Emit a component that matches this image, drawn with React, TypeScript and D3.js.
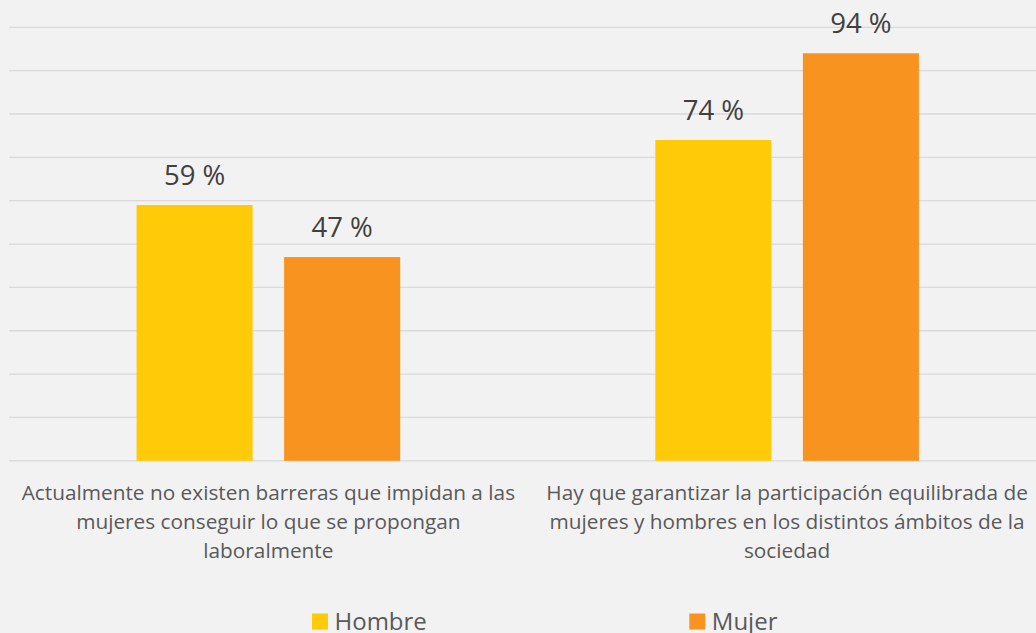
import React from "react";
import * as d3 from "d3";

const categories: string[][] = [
  ["Actualmente no existen barreras que impidan a las", "mujeres conseguir lo que se propongan", "laboralmente"],
  ["Hay que garantizar la participación equilibrada de", "mujeres y hombres en los distintos ámbitos de la", "sociedad"],
];
const seriesNames = ["Hombre", "Mujer"];
const hombre = [59, 74];
const mujer = [47, 94];
const colors = ["#FFCA08", "#F7931E"];
const yTicks = [0, 10, 20, 30, 40, 50, 60, 70, 80, 90, 100];

const W = 1036;
const H = 633;
const FONT = "'Open Sans', 'DejaVu Sans', sans-serif";

export default function App() {
  const values = [hombre, mujer];
  const x0 = d3
    .scaleBand<number>()
    .domain(categories.map((_, i) => i))
    .range([9, 1046.5])
    .paddingInner(0.4918)
    .paddingOuter(0.2459);
  const x1 = d3
    .scaleBand<number>()
    .domain(seriesNames.map((_, i) => i))
    .range([0, x0.bandwidth()])
    .paddingInner(0.2136)
    .paddingOuter(0);
  const y = d3.scaleLinear().domain([0, 100]).range([460.8, 27.3]);

  return (
    <div style={{ position: "fixed", left: 0, top: 0 }}>
      <svg width={W} height={H} style={{ display: "block" }}>
        <rect x={0} y={0} width={W} height={H} fill="#f2f2f2" />
        {yTicks.map((t) => (
          <line key={t} x1={9} x2={W} y1={y(t)} y2={y(t)} stroke="#d9d9d9" strokeWidth={1.3} />
        ))}
        {categories.map((_, ci) => (
          <g key={ci} transform={`translate(${x0(ci)},0)`}>
            {values.map((vals, si) => {
              const v = vals[ci];
              const bx = x1(si)!;
              const bw = x1.bandwidth();
              return (
                <g key={si}>
                  <rect x={bx} y={y(v)} width={bw} height={y(0) - y(v)} fill={colors[si]} />
                  <text
                    x={bx + bw / 2}
                    y={y(v) - 20}
                    textAnchor="middle"
                    fontFamily={FONT}
                    fontSize={27.5}
                    fill="#404040"
                  >
                    {`${v} %`}
                  </text>
                </g>
              );
            })}
          </g>
        ))}
        {categories.map((lines, ci) => (
          <text
            key={ci}
            x={x0(ci)! + x0.bandwidth() / 2}
            y={500}
            textAnchor="middle"
            fontFamily={FONT}
            fontSize={20.8}
            fill="#595959"
          >
            {lines.map((l, li) => (
              <tspan key={li} x={x0(ci)! + x0.bandwidth() / 2} y={500 + li * 29}>
                {l}
              </tspan>
            ))}
          </text>
        ))}
        {seriesNames.map((s, si) => {
          const lx = [312, 689.3][si];
          return (
            <g key={s}>
              <rect x={lx} y={613.5} width={16} height={16} fill={colors[si]} />
              <text x={lx + 22.5} y={630} fontFamily={FONT} fontSize={24} fill="#595959">
                {s}
              </text>
            </g>
          );
        })}
      </svg>
    </div>
  );
}
